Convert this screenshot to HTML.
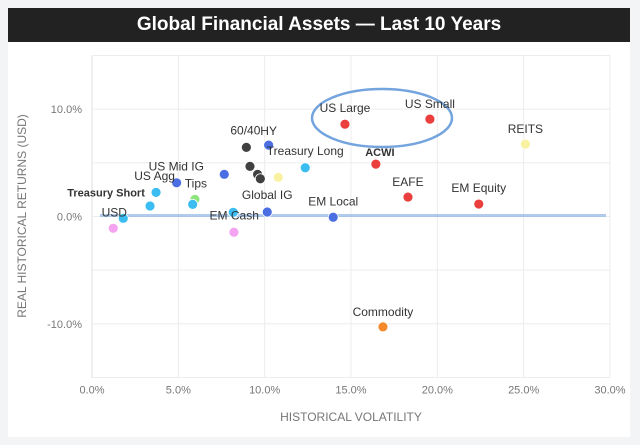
<!DOCTYPE html>
<html><head><meta charset="utf-8"><style>
body{margin:0;width:640px;height:445px;background:#f3f4f6;overflow:hidden;font-family:"Liberation Sans",sans-serif}
#title{position:absolute;left:8px;top:8px;width:622px;height:34px;background:#222;color:#fff;font-weight:bold;font-size:19px;line-height:34px;text-align:center}
#panel{position:absolute;left:8px;top:42px;width:622px;height:395px;background:#fff}
svg{position:absolute;left:0;top:0}
</style></head><body>
<div id="title">Global Financial Assets — Last 10 Years</div>
<div id="panel"></div>
<svg id="chart" width="640" height="445"></svg>
<script>
const names=["USD","","Treasury Short","","US Agg","Tips","","US Mid IG","EM Cash","","60/40","","","","HY","Global IG","","Treasury Long","EM Local","US Large","US Small","ACWI","EAFE","EM Equity","REITS","Commodity"];
const volatility=[1.81,1.23,3.71,3.36,4.9,5.96,5.83,7.66,8.18,8.22,8.94,9.15,9.59,9.75,10.23,10.15,10.79,12.35,13.97,14.65,19.57,16.44,18.3,22.4,25.1,16.85];
const returns=[-0.17,-1.1,2.25,0.98,3.14,1.6,1.13,3.93,0.39,-1.47,6.44,4.67,3.93,3.52,6.65,0.42,3.65,4.54,-0.07,8.6,9.07,4.88,1.81,1.16,6.74,-10.28];
const groups=["cyan","pink","cyan","cyan","blue","green","cyan","blue","cyan","pink","dark","dark","dark","dark","blue","blue","yellow","cyan","blue","red","red","red","red","red","yellow","orange"];
const xTicks=[0,5,10,15,20,25,30];
const yTicks=[-15,-10,-5,0,5,10,15];
const yLabeled=[-10,0,10];
// label offsets (style)
const labelDx=[-9,0,-50,0,-22,1,0,-48,1,0,-1,0,0,0,0,0,0,0,0,0,0,4,0,0,0,0];
const labelDy=[-2,0,4,0,-3,-12,0,-4,7,0,-13,0,0,0,-10,-13,0,-13,-12,-12,-11,-8,-11,-12,-11,-11];
const boldSet=["Treasury Short","ACWI"];
const colors={cyan:"#3bbdf2",pink:"#f3a3ef",blue:"#4b6fe2",green:"#8ee47c",dark:"#404040",yellow:"#f8f1a2",red:"#ea3f3d",orange:"#f58a2b"};
const L=92,R=610,T=55.5,B=377.5;
const sx=v=>L+(v-0)/30*(R-L);
const sy=v=>T+(15-v)/30*(B-T);
const svg=document.getElementById('chart');const NS="http://www.w3.org/2000/svg";
function mk(t,a){const e=document.createElementNS(NS,t);for(const k in a)e.setAttribute(k,a[k]);svg.appendChild(e);return e;}
xTicks.forEach(v=>{const l=mk('line',{x1:sx(v),x2:sx(v),y1:T,y2:B,stroke:v===0?'#ddd':'#ececec','stroke-width':1});

const t=mk('text',{x:sx(v),y:B+16,'text-anchor':'middle','font-size':11,fill:'#777'});t.textContent=v.toFixed(1)+'%';
});
yTicks.forEach(v=>{const l=mk('line',{x1:L,x2:R,y1:sy(v),y2:sy(v),stroke:'#ececec','stroke-width':1});
});
yLabeled.forEach(v=>{const t=mk('text',{x:L-10,y:sy(v)+4,'text-anchor':'end','font-size':11,fill:'#777'});t.textContent=v.toFixed(1)+'%';
});
let xt=mk('text',{x:351,y:421,'text-anchor':'middle','font-size':12,fill:'#777'});xt.textContent='HISTORICAL VOLATILITY';

let yt=mk('text',{x:0,y:0,'text-anchor':'middle','font-size':12,fill:'#777',transform:'translate(26,216) rotate(-90)'});yt.textContent='REAL HISTORICAL RETURNS (USD)';

let zl=mk('line',{x1:100,x2:606,y1:sy(0)-1,y2:sy(0)-1,stroke:'#8fb6e6','stroke-width':3,opacity:0.7});

let el=mk('ellipse',{cx:382,cy:118,rx:70,ry:29,fill:'none',stroke:'#74a4dd','stroke-width':2.5});

volatility.forEach((v,i)=>{const c=mk('circle',{cx:sx(v),cy:sy(returns[i]),r:5,fill:colors[groups[i]],stroke:'#fff','stroke-width':0.8});

});
volatility.forEach((v,i)=>{if(!names[i])return;const b=boldSet.includes(names[i]);
const t=mk('text',{x:sx(v)+labelDx[i],y:sy(returns[i])+labelDy[i],'text-anchor':'middle','font-size':b?11:12,'font-weight':b?'bold':'normal',fill:'#333'});
t.textContent=names[i];

});
</script>
</body></html>
